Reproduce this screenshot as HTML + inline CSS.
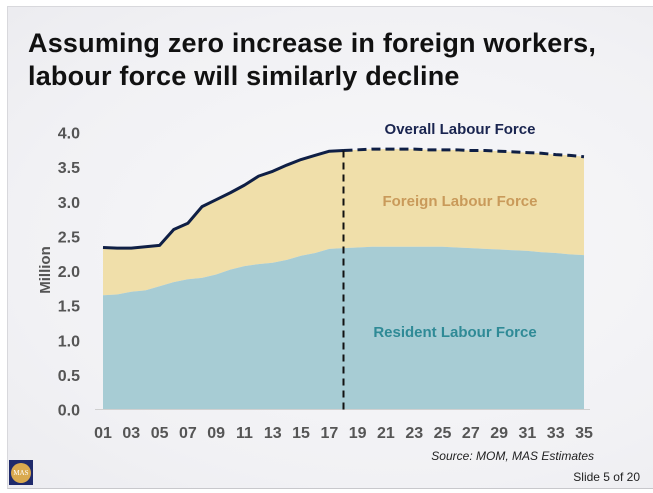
<!DOCTYPE html>
<html><head><meta charset="utf-8"><style>
html,body{margin:0;padding:0;background:#fff;}
body{width:653px;height:493px;position:relative;overflow:hidden;font-family:"Liberation Sans",sans-serif;}
#slide{position:absolute;left:7px;top:6px;width:646px;height:481px;background:radial-gradient(ellipse at 60% 50%,#f8f8fa 0%,#f1f1f4 70%,#ececf0 100%);border-left:1px solid #d8d8dc;border-top:1px solid #d8d8dc;border-bottom:1px solid #c8c8cc;}
.title{position:absolute;left:28px;font-size:27px;font-weight:bold;color:#111;white-space:nowrap;letter-spacing:0.2px;}
</style></head><body>
<div id="slide"></div>
<div class="title" style="top:28px">Assuming zero increase in foreign workers,</div>
<div class="title" style="top:61px">labour force will similarly decline</div>
<svg id="chart" width="653" height="493" style="position:absolute;left:0;top:0"></svg>
<div style="position:absolute;left:9px;top:460px;width:24px;height:25px;background:#1f2a6b"><div style="position:absolute;left:2px;top:3px;width:20px;height:20px;border-radius:50%;background:#d9a94e;color:#fff;font-size:7px;line-height:20px;text-align:center;font-family:'Liberation Serif',serif">MAS</div></div>
<script>
const years=[1,2,3,4,5,6,7,8,9,10,11,12,13,14,15,16,17,18,19,20,21,22,23,24,25,26,27,28,29,30,31,32,33,34,35];
const resident=[1.65,1.66,1.70,1.72,1.78,1.84,1.88,1.90,1.95,2.02,2.07,2.10,2.12,2.16,2.22,2.26,2.32,2.33,2.34,2.35,2.35,2.35,2.35,2.35,2.35,2.34,2.33,2.32,2.31,2.30,2.29,2.27,2.26,2.24,2.23];
const overall=[2.34,2.33,2.33,2.35,2.37,2.60,2.69,2.93,3.03,3.13,3.24,3.37,3.44,3.53,3.61,3.67,3.73,3.74,3.75,3.76,3.76,3.76,3.76,3.75,3.75,3.75,3.74,3.74,3.73,3.72,3.71,3.70,3.68,3.67,3.65];
const yTicks=[0,0.5,1,1.5,2,2.5,3,3.5,4];
const xTickLabels=["01","03","05","07","09","11","13","15","17","19","21","23","25","27","29","31","33","35"];
const splitYear=18;
const svg=document.getElementById('chart');const NS='http://www.w3.org/2000/svg';
const x=v=>103+(v-1)*(584-103)/34;
const y=v=>409.5-v*(409.5-132.5)/4;
function mk(t,a,p){const e=document.createElementNS(NS,t);for(const k in a)e.setAttribute(k,a[k]);(p||svg).appendChild(e);return e;}
function txt(s,a){const e=mk('text',a);e.textContent=s;return e;}
// foreign area
let d='M'+x(years[0])+','+y(overall[0]);years.forEach((yr,i)=>d+='L'+x(yr)+','+y(overall[i]));
for(let i=years.length-1;i>=0;i--)d+='L'+x(years[i])+','+y(resident[i]);
let e=mk('path',{d:d+'Z',fill:'#f0dfaa'});
d='M'+x(years[0])+','+y(0);years.forEach((yr,i)=>d+='L'+x(yr)+','+y(resident[i]));d+='L'+x(years[years.length-1])+','+y(0)+'Z';
e=mk('path',{d:d,fill:'#a7ccd4'});
// axis line
e=mk('line',{x1:95,x2:590,y1:y(0),y2:y(0),stroke:'#d0d0d0','stroke-width':1});
// overall solid / dashed
let s='',ds='';years.forEach((yr,i)=>{if(yr<=splitYear)s+=(s?'L':'M')+x(yr)+','+y(overall[i]);if(yr>=splitYear)ds+=(ds?'L':'M')+x(yr)+','+y(overall[i]);});
e=mk('path',{d:s,fill:'none',stroke:'#0f1f45','stroke-width':3,'stroke-linejoin':'round'});
e=mk('path',{d:ds,fill:'none',stroke:'#0f1f45','stroke-width':3,'stroke-dasharray':'9,5'});
const si=years.indexOf(splitYear);
e=mk('line',{x1:x(splitYear),x2:x(splitYear),y1:y(overall[si]),y2:y(0),stroke:'#111','stroke-width':2,'stroke-dasharray':'7,5'});
yTicks.forEach(t=>{const el=txt(t.toFixed(1),{x:80,y:y(t)+6,'text-anchor':'end','font-size':16,'font-weight':'bold',fill:'#555'});});
xTickLabels.forEach(l=>{const el=txt(l,{x:x(parseInt(l,10)),y:438,'text-anchor':'middle','font-size':16,'font-weight':'bold',fill:'#555'});});
e=txt('Million',{x:0,y:0,transform:'translate(50,270) rotate(-90)','text-anchor':'middle','font-size':15,'font-weight':'bold',fill:'#555'});
e=txt('Overall Labour Force',{x:460,y:134,'text-anchor':'middle','font-size':15,'font-weight':'bold',fill:'#1a2550'});
e=txt('Foreign Labour Force',{x:460,y:206,'text-anchor':'middle','font-size':15,'font-weight':'bold',fill:'#c99a5a'});
e=txt('Resident Labour Force',{x:455,y:337,'text-anchor':'middle','font-size':15,'font-weight':'bold',fill:'#2f8a96'});
e=txt('Source: MOM, MAS Estimates',{x:594,y:460,'text-anchor':'end','font-size':12,'font-style':'italic',fill:'#222'});
e=txt('Slide 5 of 20',{x:640,y:481,'text-anchor':'end','font-size':12,fill:'#222'});
</script>
</body></html>
